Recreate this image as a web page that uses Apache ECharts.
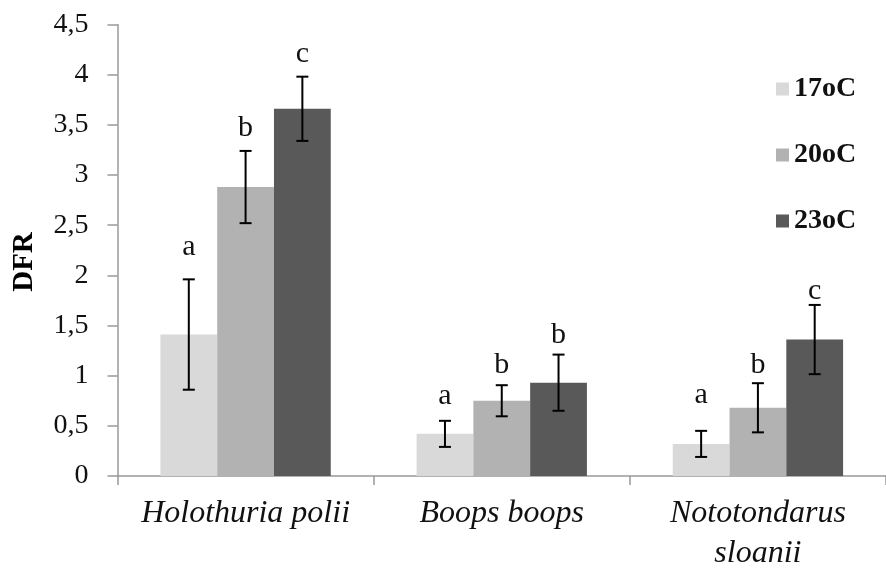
<!DOCTYPE html>
<html><head><meta charset="utf-8">
<script src="https://cdn.jsdelivr.net/npm/echarts@6/dist/echarts.min.js"></script>
<style>html,body{margin:0;padding:0;background:#fff}#c{width:886px;height:574px}</style>
</head><body><div id="c"></div>
<script>
const categories = ['Holothuria polii', 'Boops boops', 'Nototondarus\nsloanii'];
const seriesNames = ['17oC', '20oC', '23oC'];
const values17 = [1.41, 0.42, 0.32];
const values20 = [2.88, 0.75, 0.68];
const values23 = [3.66, 0.93, 1.36];
const err17 = [0.55, 0.13, 0.13];
const err20 = [0.36, 0.155, 0.245];
const err23 = [0.32, 0.28, 0.345];
const letters17 = ['a', 'a', 'a'];
const letters20 = ['b', 'b', 'b'];
const letters23 = ['c', 'b', 'c'];
const letterY17 = [2.20, 0.72, 0.73];
const letterY20 = [3.39, 1.03, 1.03];
const letterY23 = [4.125, 1.32, 1.76];
const yMin = 0, yMax = 4.5, yStep = 0.5;

const colors = ['#d9d9d9', '#b2b2b2', '#595959'];
const values = [values17, values20, values23];
const errs = [err17, err20, err23];
const letters = [letters17, letters20, letters23];
const letterYs = [letterY17, letterY20, letterY23];
const CAT_GAP = 0.335;
const serif = '"Liberation Serif", "Times New Roman", serif';

function makeRender(i) {
  return function (params, api) {
    const cat = api.value(0);
    const v = api.value(1), e = api.value(2);
    const band = api.size([1, 0])[0];
    const bw = band * (1 - CAT_GAP) / 3;
    const cx = api.coord([cat, 0])[0] + (i - 1) * bw;
    const top = api.coord([cat, v + e])[1];
    const bot = api.coord([cat, v - e])[1];
    const capW = 6;
    const st = { stroke: '#000', lineWidth: 2 };
    const ly = api.coord([cat, letterYs[i][params.dataIndex]])[1];
    return {
      type: 'group', children: [
        { type: 'line', shape: { x1: cx, y1: top, x2: cx, y2: bot }, style: st },
        { type: 'line', shape: { x1: cx - capW, y1: top, x2: cx + capW, y2: top }, style: st },
        { type: 'line', shape: { x1: cx - capW, y1: bot, x2: cx + capW, y2: bot }, style: st },
        { type: 'text', x: cx, y: ly + 7, style: { text: letters[i][params.dataIndex], font: '30px ' + serif, fill: '#111', textAlign: 'center', textVerticalAlign: 'bottom' } }
      ]
    };
  };
}

const series = [];
for (let i = 0; i < 3; i++) {
  series.push({
    name: seriesNames[i], type: 'bar', data: values[i],
    barGap: '0%', barCategoryGap: (CAT_GAP * 100) + '%',
    itemStyle: { color: colors[i] }, z: 2
  });
}
for (let i = 0; i < 3; i++) {
  series.push({
    type: 'custom', z: 5,
    renderItem: makeRender(i),
    data: values[i].map((v, k) => [k, v, errs[i][k]])
  });
}

const chart = echarts.init(document.getElementById('c'), null, { renderer: 'canvas' });
chart.setOption({
  animation: false,
  backgroundColor: '#fff',
  grid: { left: 117.5, top: 24.5, width: 778, height: 460.5 },
  legend: {
    data: seriesNames, orient: 'vertical', left: 771, top: 70,
    icon: 'rect', itemWidth: 13, itemHeight: 13, itemGap: 38, selectedMode: false,
    textStyle: { fontFamily: serif, fontWeight: 'bold', fontSize: 28, color: '#111', lineHeight: 28 }
  },
  xAxis: {
    type: 'category', data: categories,
    axisLine: { lineStyle: { color: '#999', width: 1.5 } },
    axisTick: { show: true, length: 9, alignWithLabel: false, interval: 0, lineStyle: { color: '#999', width: 1.5 } },
    axisLabel: { interval: 0, fontFamily: serif, fontStyle: 'italic', fontSize: 32, lineHeight: 40, margin: 18, color: '#111' }
  },
  yAxis: {
    type: 'value', min: yMin, max: yMax, interval: yStep,
    axisLine: { show: true, lineStyle: { color: '#999', width: 1.5 } },
    axisTick: { show: true, length: 10, lineStyle: { color: '#999', width: 1.5 } },
    splitLine: { show: false },
    axisLabel: { fontFamily: serif, fontSize: 28, color: '#111', margin: 29, formatter: v => String(v).replace('.', ',') }
  },
  graphic: [{
    type: 'text', x: 25, y: 262, rotation: Math.PI / 2,
    style: { text: 'DFR', font: 'bold 29px ' + serif, fill: '#000', textAlign: 'center', textVerticalAlign: 'middle' }
  }],
  series: series
});
</script>
</body></html>
